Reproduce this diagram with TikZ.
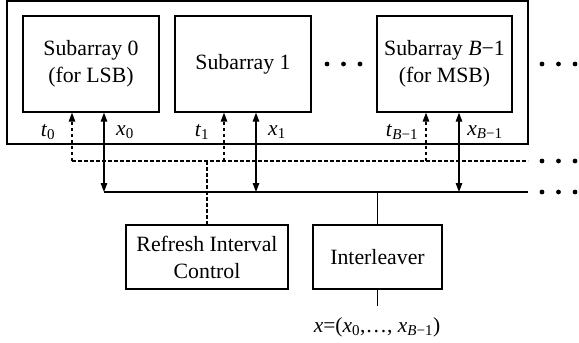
\documentclass[tikz,border=0pt]{standalone}
\usepackage{fontspec}
\setmainfont{Liberation Serif}
\usetikzlibrary{arrows.meta}
\begin{document}
\begin{tikzpicture}[x=1pt,y=-1pt,
  box/.style={draw,line width=1.3pt,align=center,inner sep=0pt,font=\fontsize{21.8}{27}\selectfont},
  lbl/.style={font=\fontsize{21.5}{24}\selectfont,inner sep=0pt},
  darr/.style={line width=1.3pt,{Triangle[length=9pt,width=6.5pt]}-{Triangle[length=9pt,width=6.5pt]}},
  dsh/.style={line width=1.3pt,dash pattern=on 3.5pt off 2.5pt},
  bus/.style={line width=1.3pt},
  dotc/.style={circle,fill,inner sep=0pt,minimum size=4.8pt}]
\useasboundingbox (0,0) rectangle (579,343);
% outer box
\node[box,minimum width=521pt,minimum height=143pt] (outer) at (267.5,72.5) {};
% subarrays
\node[box,minimum width=136pt,minimum height=96pt] (s0) at (91,64) {Subarray 0\\(for LSB)};
\node[box,minimum width=136pt,minimum height=96pt] (s1) at (243,64) {Subarray 1};
\node[box,minimum width=135pt,minimum height=96pt] (sB) at (444.5,64) {Subarray \textit{B}−1\\(for MSB)};
% dots
\foreach \i/\x in {a/327,b/343.5,c/360}{\node[dotc] (m\i) at (\x,64) {};}
\foreach \i/\x in {a/542,b/558.5,c/575}{\node[dotc] (r\i) at (\x,64) {};}
\foreach \i/\x in {a/542,b/558.5,c/575}{\node[dotc] (d\i) at (\x,161) {};}
\foreach \i/\x in {a/542,b/558.5,c/575}{\node[dotc] (b\i) at (\x,192) {};}
% bottom boxes
\node[box,minimum width=162pt,minimum height=64pt] (rc) at (207,257) {Refresh Interval\\Control};
\node[box,minimum width=129pt,minimum height=64pt] (il) at (377.5,257) {Interleaver};
% bus coordinates
\coordinate (dL) at (72,161);
\coordinate (dR) at (528,161);
\coordinate (bL) at (104,192);
\coordinate (bR) at (528,192);
\coordinate (t0b) at (72,161);
\coordinate (t1b) at (224,161);
\coordinate (tBb) at (426,161);
\coordinate (x0b) at (104,192);
\coordinate (x1b) at (256,192);
\coordinate (xBb) at (459,192);
\coordinate (rcb) at (rc.north |- dL);
\coordinate (ilb) at (il.north |- bL);
\coordinate (out) at (377.5,306);
% buses
\draw[dsh] (dL) -- (dR);
\draw[bus] (bL) -- (bR);
% arrows
\draw[dsh,-{Triangle[length=9pt,width=6.5pt]}] (t0b) -- (t0b |- s0.south);
\draw[dsh,-{Triangle[length=9pt,width=6.5pt]}] (t1b) -- (t1b |- s1.south);
\draw[dsh,-{Triangle[length=9pt,width=6.5pt]}] (tBb) -- (tBb |- sB.south);
\draw[darr] (x0b) -- (x0b |- s0.south);
\draw[darr] (x1b) -- (x1b |- s1.south);
\draw[darr] (xBb) -- (xBb |- sB.south);
\draw[dsh] (rcb) -- (rc.north);
\draw[bus] (ilb) -- (il.north);
\draw[bus] (il.south) -- (out);
% labels
\node[lbl] (lt0) at (48,132) {\textit{t}\textsubscript{0}};
\node[lbl] (lx0) at (125,132) {\textit{x}\textsubscript{0}};
\node[lbl] (lt1) at (202,132) {\textit{t}\textsubscript{1}};
\node[lbl] (lx1) at (277,132) {\textit{x}\textsubscript{1}};
\node[lbl] (ltB) at (402,132) {\textit{t}\textsubscript{\textit{B}−1}};
\node[lbl] (lxB) at (485,132) {\textit{x}\textsubscript{\textit{B}−1}};
\node[lbl] (lout) at (377,327) {\textit{x}=(\textit{x}\textsubscript{0},…, \textit{x}\textsubscript{\textit{B}−1})};
\end{tikzpicture}
\end{document}
